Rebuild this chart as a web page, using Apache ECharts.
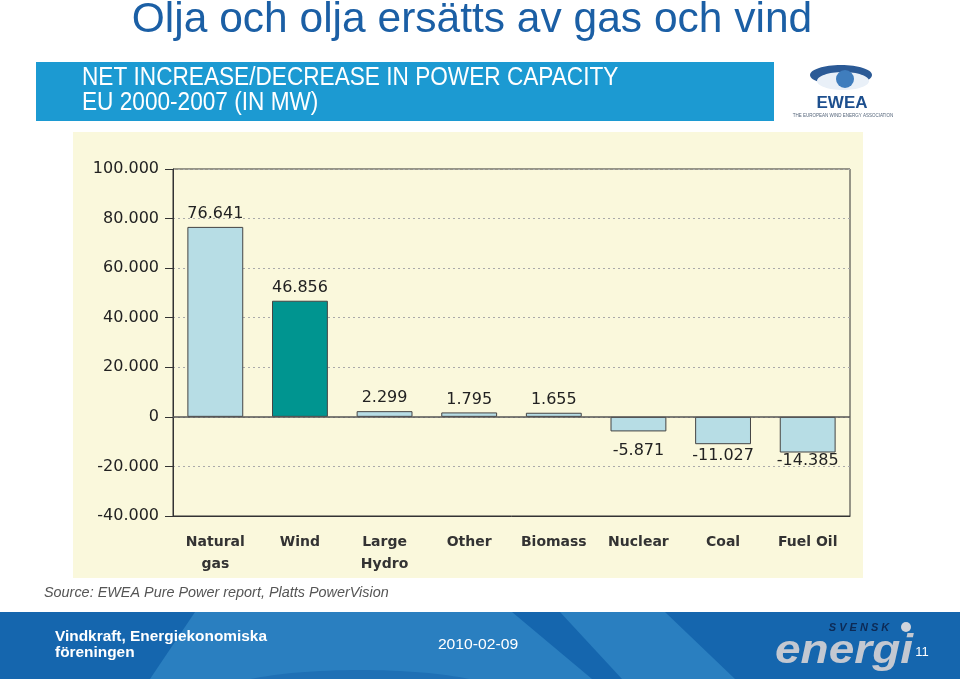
<!DOCTYPE html>
<html>
<head>
<meta charset="utf-8">
<script src="https://cdn.jsdelivr.net/npm/echarts@6/dist/echarts.min.js"></script>
<style>
  html, body { margin: 0; padding: 0; background: #fff; }
  #chart { width: 960px; height: 679px; }
</style>
</head>
<body>
<div id="chart"></div>
<script>
// net change in capacity EU 2000-2007, MW
const categories = ['Natural\ngas', 'Wind', 'Large\nHydro', 'Other', 'Biomass', 'Nuclear', 'Coal', 'Fuel Oil'];
const netChange = [76641, 46856, 2299, 1795, 1655, -5871, -11027, -14385];
const highlighted = 'Wind';

const cream = '#faf8dc';
const lightBlue = '#b7dde5';
const teal = '#009590';
// label gap under the negative bars (the original is not consistent)
const negLabelGap = { Nuclear: 11, Coal: 4, 'Fuel Oil': 0 };

// 76641 -> "76.641"
function fmt(v) {
  const s = Math.abs(v).toString().replace(/\B(?=(\d{3})+(?!\d))/g, '.');
  return (v < 0 ? '-' : '') + s;
}

const chart = echarts.init(document.getElementById('chart'));

const barData = netChange.map((v, i) => ({
  value: v,
  itemStyle: { color: categories[i] === highlighted ? teal : lightBlue },
  label: {
    position: v < 0 ? 'bottom' : 'top',
    distance: v < 0 ? (negLabelGap[categories[i]] ?? 6) : 5
  }
}));

const sans = '"Liberation Sans", Arial, sans-serif';

const option = {
  animation: false,
  backgroundColor: '#fff',
  grid: {
    left: 173, right: 110, top: 169, bottom: 163,
    show: true, backgroundColor: cream, borderColor: '#333', borderWidth: 1
  },
  xAxis: {
    type: 'category',
    data: categories,
    axisLine: { onZero: false, lineStyle: { color: '#333' } },
    axisTick: { show: false },
    axisLabel: {
      interval: 0, margin: 15, color: '#333',
      fontFamily: 'DejaVu Sans', fontWeight: 'bold', fontSize: 14, lineHeight: 22
    }
  },
  yAxis: {
    type: 'value',
    min: -40000, max: 100000, interval: 20000,
    axisLine: { show: true, lineStyle: { color: '#333' } },
    axisTick: { show: true, length: 8, lineStyle: { color: '#333' } },
    axisLabel: {
      margin: 14, color: '#222', fontFamily: 'DejaVu Sans', fontSize: 16,
      formatter: fmt
    },
    splitLine: { lineStyle: { color: '#aaa', type: [2, 3] } }
  },
  series: [{
    type: 'bar',
    data: barData,
    barWidth: '66%',
    itemStyle: { borderColor: '#444', borderWidth: 1 },
    label: {
      show: true, color: '#222', fontFamily: 'DejaVu Sans', fontSize: 16,
      formatter: p => fmt(p.value)
    },
    markLine: {
      silent: true, symbol: 'none', label: { show: false },
      lineStyle: { color: '#555', type: 'solid', width: 1.5 },
      data: [{ yAxis: 0 }]
    }
  }],
  graphic: [
    // chart panel
    { type: 'rect', z: -100, shape: { x: 73, y: 132, width: 790, height: 446 }, style: { fill: cream } },
    // slide title
    {
      type: 'text', x: 472, y: 20, scaleX: 1.012,
      style: {
        text: 'Olja och olja ersätts av gas och vind', fill: '#1b5fa5',
        font: '42px ' + sans, align: 'center', verticalAlign: 'middle'
      }
    },
    // banner
    { type: 'rect', shape: { x: 36, y: 62, width: 738, height: 59 }, style: { fill: '#1c9ad2' } },
    {
      type: 'text', x: 82, y: 78, scaleX: 0.905,
      style: { text: 'NET INCREASE/DECREASE IN POWER CAPACITY', fill: '#fff', font: '25px ' + sans, verticalAlign: 'middle' }
    },
    {
      type: 'text', x: 82, y: 103, scaleX: 0.905,
      style: { text: 'EU 2000-2007 (IN MW)', fill: '#fff', font: '25px ' + sans, verticalAlign: 'middle' }
    },
    // EWEA logo
    { type: 'ellipse', shape: { cx: 841, cy: 75, rx: 31, ry: 10 }, style: { fill: '#2b5a96' } },
    { type: 'ellipse', shape: { cx: 843, cy: 81, rx: 26, ry: 9 }, style: { fill: '#e9f0f8' } },
    { type: 'circle', shape: { cx: 845, cy: 79, r: 9 }, style: { fill: '#3f7dbd' } },
    {
      type: 'text', x: 842, y: 103,
      style: { text: 'EWEA', fill: '#1d4f8e', font: 'bold 17px ' + sans, align: 'center', verticalAlign: 'middle' }
    },
    {
      type: 'text', x: 843, y: 116,
      style: { text: 'THE EUROPEAN WIND ENERGY ASSOCIATION', fill: '#55657a', font: '4.5px ' + sans, align: 'center', verticalAlign: 'middle' }
    },
    // source note
    {
      type: 'text', x: 44, y: 593, scaleX: 0.96,
      style: { text: 'Source: EWEA Pure Power report, Platts PowerVision', fill: '#555', font: 'italic 15px ' + sans, verticalAlign: 'middle' }
    },
    // footer band
    { type: 'rect', shape: { x: 0, y: 612, width: 960, height: 67 }, style: { fill: '#1566ae' } },
    { type: 'polygon', shape: { points: [[195, 612], [512, 612], [592, 679], [150, 679]] }, style: { fill: '#2a7fc0' } },
    { type: 'polygon', shape: { points: [[560, 612], [665, 612], [735, 679], [622, 679]] }, style: { fill: '#2a7fc0' } },
    { type: 'ellipse', shape: { cx: 360, cy: 694, rx: 140, ry: 24 }, style: { fill: '#1f70b5' } },
    {
      type: 'text', x: 55, y: 637, scaleX: 1.1,
      style: { text: 'Vindkraft, Energiekonomiska', fill: '#fff', font: 'bold 14px ' + sans, verticalAlign: 'middle' }
    },
    {
      type: 'text', x: 55, y: 653, scaleX: 1.1,
      style: { text: 'föreningen', fill: '#fff', font: 'bold 14px ' + sans, verticalAlign: 'middle' }
    },
    {
      type: 'text', x: 478, y: 645, scaleX: 1.12,
      style: { text: '2010-02-09', fill: '#fff', font: '14px ' + sans, align: 'center', verticalAlign: 'middle' }
    },
    {
      type: 'text', x: 859, y: 628,
      style: { text: 'S V E N S K', fill: '#0d2a55', font: 'italic bold 11px ' + sans, align: 'center', verticalAlign: 'middle' }
    },
    {
      type: 'text', x: 844, y: 652, scaleY: 0.9,
      style: { text: 'energi', fill: '#c3c8d1', font: 'italic bold 46px ' + sans, align: 'center', verticalAlign: 'middle' }
    },
    { type: 'circle', shape: { cx: 906, cy: 627, r: 5 }, style: { fill: '#d0d4dc' } },
    {
      type: 'text', x: 922, y: 652,
      style: { text: '11', fill: '#fff', font: '13px ' + sans, align: 'center', verticalAlign: 'middle' }
    }
  ]
};

chart.setOption(option);
</script>
</body>
</html>
